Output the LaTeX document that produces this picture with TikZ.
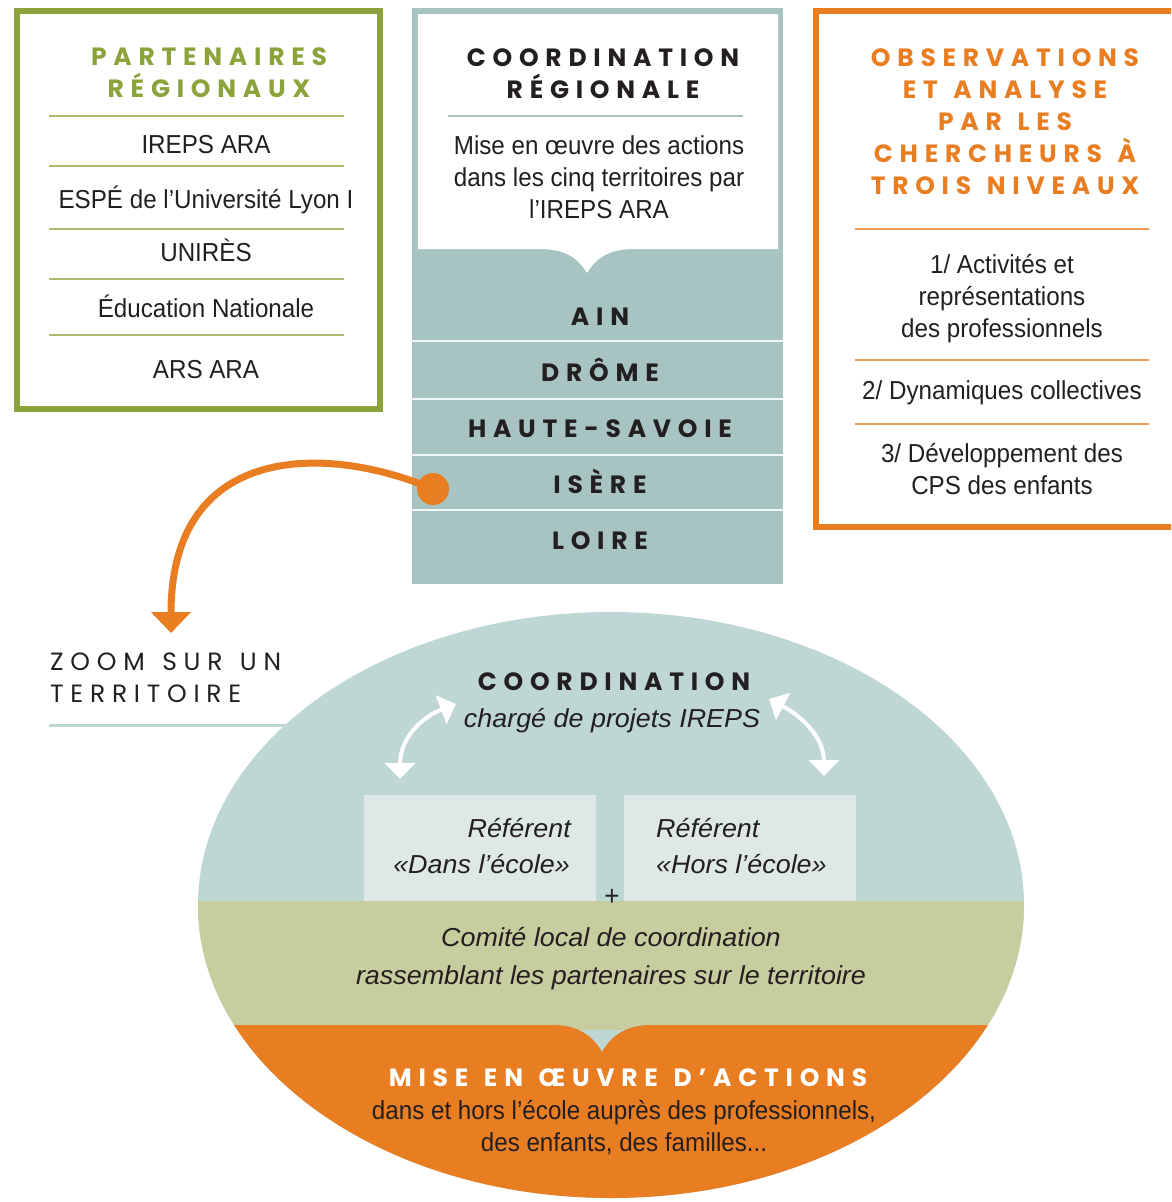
\documentclass[tikz,border=0pt]{standalone}
\usepackage{fontspec}
\setmainfont{Liberation Sans}[UprightFeatures={FakeStretch=0.93}, ItalicFeatures={FakeStretch=1.035}]
\newfontfamily\ttl{Poppins}[LetterSpace=27, WordSpace=1.4]
\newfontfamily\ttlz{Poppins}[LetterSpace=27, WordSpace=1.3]
\usetikzlibrary{arrows.meta}
\definecolor{ink}{HTML}{231F20}
\definecolor{grn}{HTML}{8CA23B}
\definecolor{grnl}{HTML}{A9BC6F}
\definecolor{orn}{HTML}{E87D22}
\definecolor{ornl}{HTML}{EE9A52}
\definecolor{tealc}{HTML}{A7C4C3}
\definecolor{teale}{HTML}{BED6D4}
\definecolor{refb}{HTML}{DEE8E7}
\definecolor{olv}{HTML}{C7CD9E}
\tikzset{
  ttlS/.style={font=\ttl\bfseries\fontsize{25}{28}\selectfont, text=ink, inner sep=0pt, text height=17.5pt, text depth=0pt},
  bodyS/.style={font=\fontsize{26}{32}\selectfont, text=ink, inner sep=0pt, text height=18.6pt, text depth=0pt},
  itS/.style={bodyS, font=\fontsize{26}{32}\selectfont\itshape},
  zoomS/.style={font=\ttlz\fontsize{25}{28}\selectfont, text=ink, inner sep=0pt, text height=17.5pt, text depth=0pt, anchor=west},
  gsep/.style={grnl, line width=2pt},
  osep/.style={ornl, line width=2pt},
  wsep/.style={white, line width=1.6pt, opacity=0.85},
  warrow/.style={white, line width=4pt, {Triangle[width=30pt,length=16pt]}-{Triangle[width=30pt,length=16pt]}},
}
\begin{document}
\begin{tikzpicture}[x=1pt,y=-1pt]
\useasboundingbox (0,0) rectangle (1171,1202);
\clip (0,0) rectangle (1171,1202);

% ---------- left box ----------
\draw[grn, line width=6pt] (17,11) rectangle (380,409);
\node[ttlS, text=grn] (pt1) at (209,57) {PARTENAIRES};
\node[ttlS, text=grn] (pt2) at (209,89) {RÉGIONAUX};
\draw[gsep] (49,116) -- (344,116);
\node[bodyS] (p1) at (206,144) {IREPS ARA};
\draw[gsep] (49,166) -- (344,166);
\node[bodyS] (p2) at (206,199) {ESPÉ de l’Université Lyon I};
\draw[gsep] (49,229) -- (344,229);
\node[bodyS] (p3) at (206,252) {UNIRÈS};
\draw[gsep] (49,279) -- (344,279);
\node[bodyS] (p4) at (206,308) {Éducation Nationale};
\draw[gsep] (49,335) -- (344,335);
\node[bodyS] (p5) at (206,369) {ARS ARA};

% ---------- middle column ----------
\fill[tealc] (412,8) rectangle (783,584);
\fill[white] (418,14) -- (778,14) -- (778,249) -- (634,249)
  .. controls (609,249) and (596,258) .. (587,273)
  .. controls (578,258) and (565,249) .. (540,249) -- (418,249) -- cycle;
\node[ttlS] (c1) at (603,58) {COORDINATION};
\node[ttlS] (c2) at (603,90) {RÉGIONALE};
\draw[tealc, line width=2pt] (448,116) -- (743,116);
\node[bodyS] (m1) at (599,145) {Mise en œuvre des actions};
\node[bodyS] (m2) at (599,177) {dans les cinq territoires par};
\node[bodyS] (m3) at (599,209) {l’IREPS ARA};
\draw[wsep] (412,341) -- (783,341);
\draw[wsep] (412,399) -- (783,399);
\draw[wsep] (412,455) -- (783,455);
\draw[wsep] (412,510) -- (783,510);
\node[ttlS] (t1) at (600,317) {AIN};
\node[ttlS] (t2) at (600,373) {DRÔME};
\node[ttlS] (t3) at (600,429) {HAUTE-SAVOIE};
\node[ttlS] (t4) at (600,485) {ISÈRE};
\node[ttlS] (t5) at (600,541) {LOIRE};

% ---------- right box ----------
\draw[orn, line width=6pt] (816,11) rectangle (1190,527);
\node[ttlS, text=orn] (o1) at (1005,58) {OBSERVATIONS};
\node[ttlS, text=orn] (o2) at (1005,90) {ET ANALYSE};
\node[ttlS, text=orn] (o3) at (1005,122) {PAR LES};
\node[ttlS, text=orn] (o4) at (1005,154) {CHERCHEURS À};
\node[ttlS, text=orn] (o5) at (1005,186) {TROIS NIVEAUX};
\draw[osep] (855,229) -- (1149,229);
\node[bodyS] (r1) at (1002,264) {1/ Activités et};
\node[bodyS] (r2) at (1002,296) {représentations};
\node[bodyS] (r3) at (1002,328) {des professionnels};
\draw[osep] (855,360) -- (1149,360);
\node[bodyS] (r4) at (1002,390) {2/ Dynamiques collectives};
\draw[osep] (855,424) -- (1149,424);
\node[bodyS] (r5) at (1002,453) {3/ Développement des};
\node[bodyS] (r6) at (1002,485) {CPS des enfants};

% ---------- orange arrow ----------
\node[circle, fill=orn, minimum size=32pt, inner sep=0pt] (isdot) at (433,489) {};
\coordinate (ztip) at (171,633);
\draw[orn, line width=7pt, -{Triangle[width=39pt,length=21pt]}]
  (isdot.center) .. controls (330,445) and (171,440) .. (ztip);

% ---------- zoom label ----------
\draw[teale, line width=3pt] (49,725) -- (300,725);
\node[zoomS] (z1) at (50,662) {ZOOM SUR UN};
\node[zoomS] (z2) at (50,694) {TERRITOIRE};

% ---------- ellipse ----------
\begin{scope}
\clip (611,905) ellipse [x radius=413pt, y radius=293pt];
\fill[teale] (190,600) rectangle (1040,1210);
\fill[refb] (364,795) rectangle (596,902);
\fill[refb] (624,795) rectangle (856,902);
\fill[olv] (190,901) rectangle (1040,1030);
\fill[orn] (190,1025) -- (553,1025)
  .. controls (578,1025) and (593,1036) .. (602,1052)
  .. controls (611,1036) and (626,1025) .. (651,1025)
  -- (1040,1025) -- (1040,1210) -- (190,1210) -- cycle;
\end{scope}

\node[ttlS] (ec) at (614,682) {COORDINATION};
\node[itS] (ecp) at (612,718) {chargé de projets IREPS};
\coordinate (la1) at (400,779);
\coordinate (la2) at (456,704);
\coordinate (ra1) at (769,699);
\coordinate (ra2) at (824,776);
\draw[warrow] (la1) .. controls (400,738) and (422,717) .. (la2);
\draw[warrow] (ra1) .. controls (803,717) and (824,738) .. (ra2);

\node[itS, anchor=east] (rd1) at (571,828) {Référent};
\node[itS, anchor=east] (rd2) at (570,864) {«Dans l’école»};
\node[itS, anchor=west] (rh1) at (656,828) {Référent};
\node[itS, anchor=west] (rh2) at (656,864) {«Hors l’école»};
\node[font=\fontsize{28}{30}\selectfont, text=ink, inner sep=0pt] (plus) at (612,897) {+};

\node[itS] (cl1) at (611,937) {Comité local de coordination};
\node[itS] (cl2) at (611,975) {rassemblant les partenaires sur le territoire};

\node[ttlS, text=white] (mo) at (628,1078) {MISE EN ŒUVRE D’ACTIONS};
\node[bodyS] (mo1) at (624,1110) {dans et hors l’école auprès des professionnels,};
\node[bodyS] (mo2) at (624,1142) {des enfants, des familles...};
\end{tikzpicture}
\end{document}
